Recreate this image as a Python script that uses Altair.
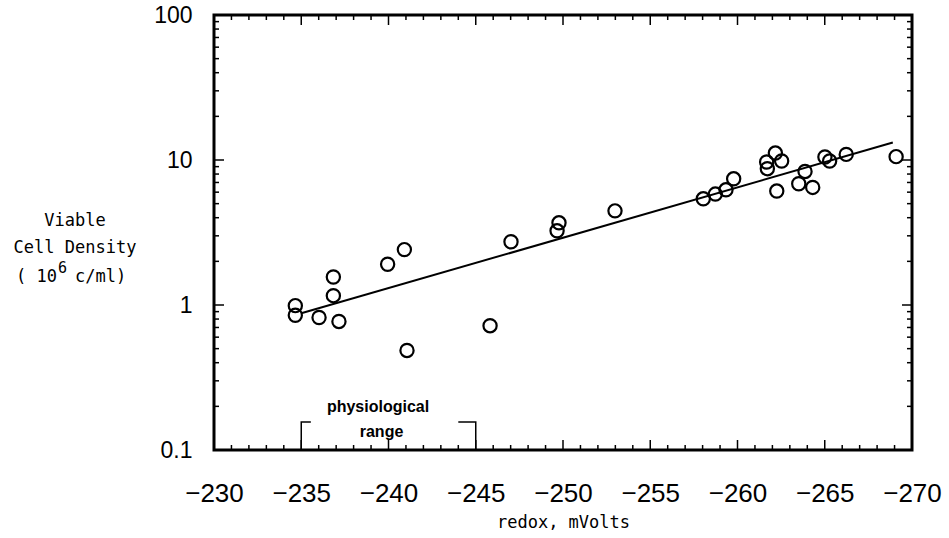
import altair as alt
import pandas as pd

# ---- data ----
redox = [-234.66, -234.66, -236.02, -236.84, -236.84, -237.16, -239.95, -240.91,
         -241.06, -245.82, -247.02, -249.66, -249.77, -252.98, -258.04, -258.73,
         -259.34, -259.78, -261.67, -261.71, -262.17, -262.53, -262.25, -263.51,
         -263.87, -264.31, -265.01, -265.28, -266.23, -269.09]
density = [0.99, 0.85, 0.82, 1.16, 1.56, 0.77, 1.91, 2.41,
           0.486, 0.72, 2.73, 3.25, 3.69, 4.46, 5.40, 5.82,
           6.23, 7.42, 9.69, 8.71, 11.17, 9.84, 6.11, 6.86,
           8.34, 6.47, 10.49, 9.84, 10.93, 10.55]

fit_x = [-235.0, -268.9]
fit_y = [0.877, 13.2]

x_tick_labels = [-230, -235, -240, -245, -250, -255, -260, -265, -270]
y_tick_labels = [0.1, 1, 10, 100]
x_minor = [v for v in range(-230, -271, -1) if v % 5 != 0]
y_minor = [m * 10 ** e for e in (-1, 0, 1) for m in range(2, 10)]

bracket_left_x = [-235.0, -235.0, -235.55]
bracket_left_y = [0.1, 0.156, 0.156]
bracket_right_x = [-244.0, -245.0, -245.0]
bracket_right_y = [0.156, 0.156, 0.1]

note_text = ["physiological", "range"]
note_x = [-239.4, -239.6]
note_y = [0.199, 0.134]

y_title_lines = ["Viable", "Cell Density"]
y_title_unit = ["( 10", "6", "c/ml)"]

W, H = 698, 435
LEFT, TOP = 214, 15

xs = alt.Scale(domain=[-270, -230], reverse=True, nice=False, zero=False)
ys = alt.Scale(type="log", domain=[0.1, 100], nice=False)

pts = pd.DataFrame({"redox": redox, "density": density})

points = alt.Chart(pts).mark_point(
    shape="circle", filled=False, color="black", strokeWidth=2.2, size=175, opacity=1
).encode(
    x=alt.X("redox:Q", scale=xs, axis=alt.Axis(
        values=x_tick_labels, ticks=False, domain=False, grid=False,
        labelFont="Liberation Sans", labelFontSize=26, labelColor="black",
        labelPadding=30, labelFlush=False, labelOverlap=False, format="d",
        title="redox, mVolts", titleFont="DejaVu Sans Mono", titleFontSize=17,
        titleFontWeight="normal", titleColor="black", titleY=72, titleBaseline="middle")),
    y=alt.Y("density:Q", scale=ys, axis=alt.Axis(
        values=y_tick_labels, ticks=False, domain=False, grid=False, format="~g",
        labelFont="Liberation Sans", labelFontSize=23, labelColor="black",
        labelPadding=22, labelFlush=False, labelOverlap=False, title=None)),
)

fit = alt.Chart(pd.DataFrame({"x": fit_x, "y": fit_y})).mark_line(
    color="black", strokeWidth=2
).encode(x=alt.X("x:Q", scale=xs), y=alt.Y("y:Q", scale=ys))

def bracket(xv, yv):
    df = pd.DataFrame({"x": xv, "y": yv, "o": list(range(len(xv)))})
    return alt.Chart(df).mark_line(color="black", strokeWidth=1.5).encode(
        x=alt.X("x:Q", scale=xs), y=alt.Y("y:Q", scale=ys), order="o:Q")

notes = alt.Chart(pd.DataFrame({"t": note_text, "x": note_x, "y": note_y})).mark_text(
    font="Liberation Sans", fontWeight="bold", fontSize=16, color="black",
    align="center", baseline="middle"
).encode(x=alt.X("x:Q", scale=xs), y=alt.Y("y:Q", scale=ys), text="t:N")

# y title drawn as text outside the plot area (left margin)
def ytext(txt, px, py, align="center", size=17):
    return alt.Chart(pd.DataFrame({"t": [txt]})).mark_text(
        font="DejaVu Sans Mono", fontSize=size, color="black",
        align=align, baseline="middle"
    ).encode(text="t:N", x=alt.value(px - LEFT), y=alt.value(py - TOP))

title_layers = [
    ytext(y_title_lines[0], 75, 221),
    ytext(y_title_lines[1], 75, 248),
    ytext(y_title_unit[0], 57, 277, align="right"),
    ytext(y_title_unit[1], 58, 268, align="left", size=15),
    ytext(y_title_unit[2], 75, 277, align="left"),
]

def xticks(vals, L):
    df = pd.DataFrame({"x": vals})
    base = alt.Chart(df).mark_rule(color="black", strokeWidth=1.5)
    return [
        base.encode(x=alt.X("x:Q", scale=xs), y=alt.value(H), y2=alt.value(H - L)),
        base.encode(x=alt.X("x:Q", scale=xs), y=alt.value(0), y2=alt.value(L)),
    ]

def yticks(vals, L):
    df = pd.DataFrame({"y": vals})
    base = alt.Chart(df).mark_rule(color="black", strokeWidth=1.5)
    return [
        base.encode(y=alt.Y("y:Q", scale=ys), x=alt.value(0), x2=alt.value(L)),
        base.encode(y=alt.Y("y:Q", scale=ys), x=alt.value(W), x2=alt.value(W - L)),
    ]

layers = [points, fit, bracket(bracket_left_x, bracket_left_y),
          bracket(bracket_right_x, bracket_right_y), notes]
layers += title_layers
layers += xticks(x_tick_labels, 10) + xticks(x_minor, 5)
layers += yticks(y_tick_labels, 10) + yticks(y_minor, 5)

chart = alt.layer(*layers).properties(
    width=W, height=H,
    autosize=alt.AutoSizeParams(type="none"),
    padding={"left": LEFT, "top": TOP, "right": 37, "bottom": 88},
    background="white",
).configure_view(stroke="black", strokeWidth=3)

chart.save("out.html", embed_options={"renderer": "svg", "actions": False})
